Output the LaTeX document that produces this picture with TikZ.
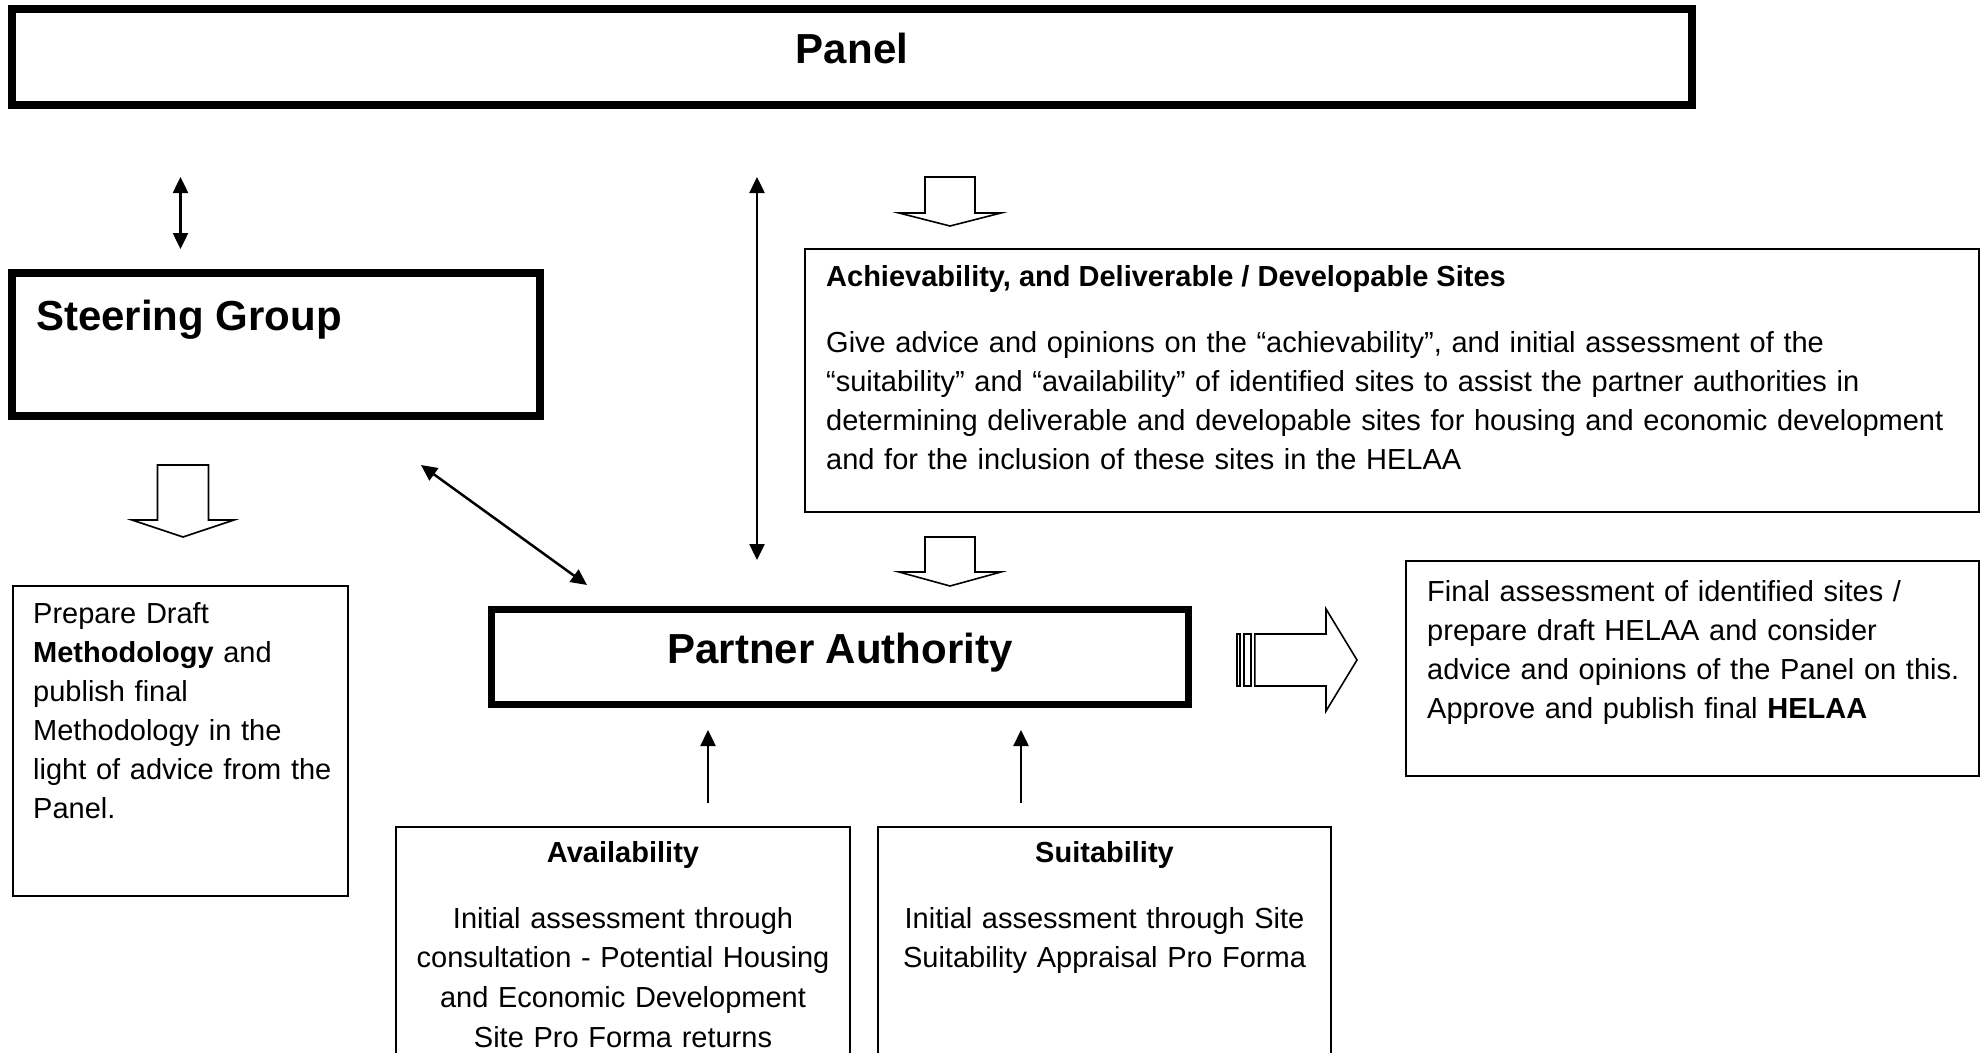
\documentclass[tikz,border=0pt]{standalone}
\usepackage{fontspec}
\setmainfont{Liberation Sans}
\usetikzlibrary{arrows.meta}
\begin{document}
\begin{tikzpicture}[x=1pt,y=-1pt,
  thickbox/.style={draw, line width=8pt, inner sep=0pt, rectangle},
  medbox/.style={draw, line width=7pt, inner sep=0pt, rectangle},
  thinbox/.style={draw, line width=2pt, inner sep=0pt, rectangle},
  body/.style={font=\fontsize{29}{39}\selectfont, inner sep=0pt},
  bodywide/.style={font=\fontsize{29}{39.7}\selectfont, inner sep=0pt},
  bodyb/.style={font=\fontsize{29}{39}\selectfont\bfseries, inner sep=0pt},
  headtext/.style={font=\fontsize{42}{50}\selectfont\bfseries, inner sep=0pt},
  tip/.tip={Triangle[length=16pt,width=15pt]},
  conn/.style={line width=2.5pt, tip-tip},
  upconn/.style={line width=2.5pt, -tip},
  blockarrow/.style={draw, line width=1.6pt, fill=white, line join=miter},
]
\useasboundingbox (0,0) rectangle (1988,1052);

% boxes
\node[thickbox, minimum width=1680pt, minimum height=96pt] (panel) at (852,57) {};
\node[thickbox, minimum width=528pt, minimum height=143pt] (steer) at (276,344.5) {};
\node[thinbox, minimum width=1174pt, minimum height=263pt] (ach) at (1392,380.5) {};
\node[thinbox, minimum width=335pt, minimum height=310pt] (meth) at (180.5,741) {};
\node[medbox, minimum width=697pt, minimum height=95pt] (pa) at (840,657) {};
\node[thinbox, minimum width=573pt, minimum height=215pt] (final) at (1692.5,668.5) {};
\node[thinbox, minimum width=454pt, minimum height=253pt] (avail) at (623,953.5) {};
\node[thinbox, minimum width=453pt, minimum height=253pt] (suit) at (1104.5,953.5) {};

% texts
\node[headtext, anchor=base] (paneltext) at (852,63) {Panel};
\node[headtext, anchor=base west] (steertext) at (36,330) {Steering Group};
\node[headtext, anchor=base] (patext) at (840,663) {Partner Authority};

\node[bodyb, anchor=base west] (achtitle) at (826,286) {Achievability, and Deliverable / Developable Sites};
\node[body, anchor=base west, text width=1150pt, align=left] (achbody) at (826,352)
  {Give advice and opinions on the “achievability”, and initial assessment of the\\
   “suitability” and “availability” of identified sites to assist the partner authorities in\\
   determining deliverable and developable sites for housing and economic development\\
   and for the inclusion of these sites in the HELAA};

\node[body, anchor=base west, text width=320pt, align=left] (methtext) at (33,623)
  {Prepare Draft\\ \textbf{Methodology} and\\ publish final\\ Methodology in the\\ light of advice from the\\ Panel.};

\node[body, anchor=base west, text width=550pt, align=left] (finaltext) at (1427,601)
  {Final assessment of identified sites /\\ prepare draft HELAA and consider\\ advice and opinions of the Panel on this.\\ Approve and publish final \textbf{HELAA}};

\node[bodyb, anchor=base] (availtitle) at (623,862) {Availability};
\node[bodywide, anchor=base, text width=440pt, align=center] (availtext) at (623,928)
  {Initial assessment through\\ consultation - Potential Housing\\ and Economic Development\\ Site Pro Forma returns};

\node[bodyb, anchor=base] (suittitle) at (1104.5,862) {Suitability};
\node[bodywide, anchor=base, text width=440pt, align=center] (suittext) at (1104.5,928)
  {Initial assessment through Site\\ Suitability Appraisal Pro Forma};

% connector end points
\coordinate (c1a) at (180.5,177);
\coordinate (c1b) at (180.5,249);
\coordinate (c2a) at (757,177);
\coordinate (c2b) at (757,560);
\coordinate (c3a) at (421,465);
\coordinate (c3b) at (587,585);
\coordinate (c4a) at (708,803);
\coordinate (c4b) at (708,730);
\coordinate (c5a) at (1021,803);
\coordinate (c5b) at (1021,730);

\draw[conn] (c1a) -- (c1b);
\draw[conn] (c2a) -- (c2b);
\draw[conn] (c3a) -- (c3b);
\draw[upconn] (c4a) -- (c4b);
\draw[upconn] (c5a) -- (c5b);

% block arrows
\draw[blockarrow] (157.5,465) -- (208.5,465) -- (208.5,520) -- (234,520) -- (183,537) -- (132,520) -- (157.5,520) -- cycle;
\draw[blockarrow] (925,177) -- (975,177) -- (975,213) -- (1001,213) -- (950,226) -- (899,213) -- (925,213) -- cycle;
\draw[blockarrow] (925,537) -- (975,537) -- (975,572) -- (1001,572) -- (950,586) -- (899,572) -- (925,572) -- cycle;

\draw[blockarrow] (1236.8,634) rectangle (1240.2,686);
\draw[blockarrow] (1243.8,634) rectangle (1251.2,686);
\draw[blockarrow] (1254.8,634) -- (1326,634) -- (1326,609) -- (1357,660) -- (1326,711) -- (1326,686) -- (1254.8,686) -- cycle;
\end{tikzpicture}
\end{document}
